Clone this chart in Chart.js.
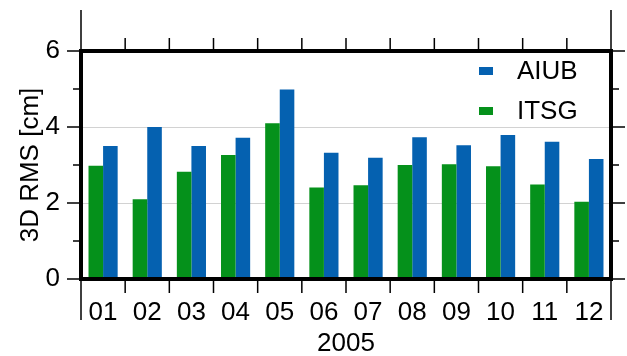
<!DOCTYPE html>
<html>
<head>
<meta charset="utf-8">
<script src="https://cdn.jsdelivr.net/npm/chart.js@4.4.1/dist/chart.umd.min.js"></script>
<style>
  html, body { margin: 0; padding: 0; background: #fff; }
  #wrap { width: 627px; height: 356px; }
</style>
</head>
<body>
<div id="wrap"><canvas id="bars"></canvas></div>
<script>
var months = ['01', '02', '03', '04', '05', '06', '07', '08', '09', '10', '11', '12'];
var itsgRms = [2.98, 2.10, 2.82, 3.26, 4.10, 2.41, 2.47, 3.00, 3.02, 2.97, 2.49, 2.03];
var aiubRms = [3.50, 4.00, 3.50, 3.72, 4.99, 3.32, 3.19, 3.73, 3.52, 3.79, 3.61, 3.16];
var yTickLabels = ['0', '2', '4', '6'];

var GREEN = '#05911b';
var BLUE = '#0561b0';
var FONT = '"Liberation Sans", Arial, sans-serif';

Chart.defaults.font.family = FONT;
Chart.defaults.color = '#000';

// frame, outside ticks and legend, in the style of the original plot
var framePlugin = {
  id: 'frame',
  afterDraw: function(chart) {
    var ctx = chart.ctx;
    var a = chart.chartArea;
    var x = chart.scales.x, y = chart.scales.y;
    ctx.save();
    ctx.strokeStyle = '#000';
    ctx.lineWidth = 1.5;
    ctx.beginPath();
    for (var v = 0; v <= 6; v++) {
      var py = y.getPixelForValue(v);
      var len = (v % 2) ? 8 : 14;
      ctx.moveTo(a.left - len, py); ctx.lineTo(a.left, py);
      ctx.moveTo(a.right, py); ctx.lineTo(a.right + len, py);
    }
    for (var i = 1; i < months.length; i++) {
      var px = (x.getPixelForValue(i - 1) + x.getPixelForValue(i)) / 2;
      ctx.moveTo(px, a.top - 13); ctx.lineTo(px, a.top);
      ctx.moveTo(px, a.bottom); ctx.lineTo(px, a.bottom + 14);
    }
    ctx.moveTo(a.left, a.top - 41); ctx.lineTo(a.left, a.bottom + 41);
    ctx.moveTo(a.right, a.top - 41); ctx.lineTo(a.right, a.bottom + 41);
    ctx.stroke();

    ctx.lineWidth = 4;
    ctx.strokeRect(a.left, a.top, a.right - a.left, a.bottom - a.top);

    // legend, AIUB on top
    var sets = chart.data.datasets.slice().reverse();
    ctx.font = '26px ' + FONT;
    ctx.textBaseline = 'middle';
    ctx.textAlign = 'left';
    sets.forEach(function(ds, k) {
      var by = a.top + 16 + k * 40;
      ctx.fillStyle = ds.backgroundColor;
      ctx.fillRect(a.right - 132, by, 14, 8);
      ctx.fillStyle = '#000';
      ctx.fillText(ds.label, a.right - 94, by + 5);
    });
    ctx.restore();
  }
};

new Chart(document.getElementById('bars'), {
  type: 'bar',
  data: {
    labels: months,
    datasets: [{
      label: 'ITSG',
      data: itsgRms,
      backgroundColor: GREEN
    }, {
      label: 'AIUB',
      data: aiubRms,
      backgroundColor: BLUE
    }]
  },
  options: {
    responsive: true,
    maintainAspectRatio: false,
    animation: false,
    events: [],
    categoryPercentage: 0.66,
    barPercentage: 1.0,
    layout: {
      padding: { top: 51, right: 16, left: 0, bottom: 0 }
    },
    plugins: {
      legend: { display: false },
      tooltip: { enabled: false }
    },
    scales: {
      x: {
        grid: { display: false, drawTicks: false },
        border: { display: false },
        ticks: { font: { size: 26 }, padding: 18, maxRotation: 0 },
        title: { display: true, text: '2005', font: { size: 26, lineHeight: 1.0 }, padding: { top: 0, bottom: -1 } },
        afterFit: function(scale) { scale.height = 77; }
      },
      y: {
        min: 0,
        max: 6,
        ticks: {
          stepSize: 2,
          font: { size: 26 },
          padding: 21,
          callback: function(value, index) { return yTickLabels[index]; }
        },
        grid: {
          drawTicks: false,
          lineWidth: 1,
          color: function(c) {
            return (c.tick && (c.tick.value === 2 || c.tick.value === 4)) ? '#d2d2d2' : 'rgba(0,0,0,0)';
          }
        },
        border: { display: false },
        title: { display: true, text: '3D RMS [cm]', font: { size: 26 }, padding: { top: 15, bottom: 0 } },
        afterFit: function(scale) { scale.width = 81; }
      }
    }
  },
  plugins: [framePlugin]
});
</script>
</body>
</html>
